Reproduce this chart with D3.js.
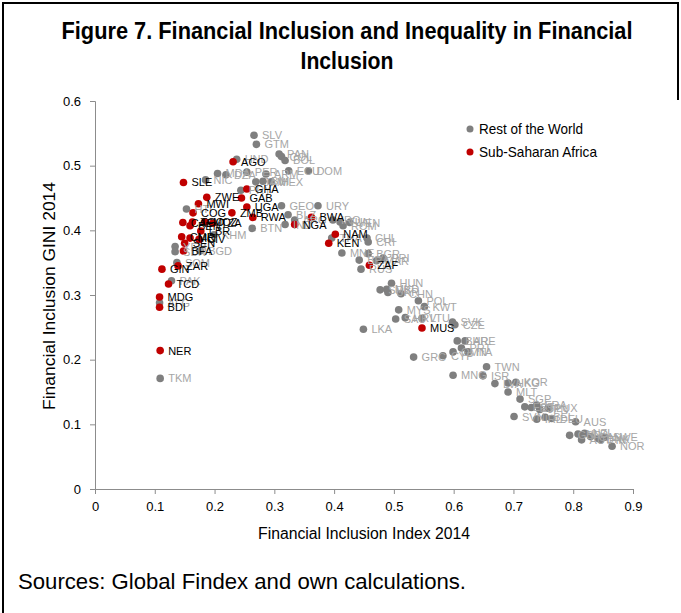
<!DOCTYPE html>
<html><head><meta charset="utf-8">
<script src="https://cdn.jsdelivr.net/npm/d3@7"></script>
<style>body{margin:0;background:#fff}svg{display:block}</style>
</head><body>
<svg id="c" width="681" height="613"></svg>
<script>
const title = ["Figure 7. Financial Inclusion and Inequality in Financial", "Inclusion"];
const xLabel = "Financial Inclusion Index 2014";
const yLabel = "Financial Inclusion GINI 2014";
const source = "Sources: Global Findex and own calculations.";
const seriesNames = ["Rest of the World", "Sub-Saharan Africa"];
const xTicks = [0,0.1,0.2,0.3,0.4,0.5,0.6,0.7,0.8,0.9];
const yTicks = [0,0.1,0.2,0.3,0.4,0.5,0.6];

const rowCodes = ["SLV","GTM","PAN","COL","BOL","ECU","DOM","HND","MDA","DZA","NIC","PER","ARM","JAM","BIH","MEX","PRY","HTI","GEO","URY","BLZ","ARG","IND","BTN","IRQ","TUN","VEN","ROM","THA","CHL","CRI","MNE","BGR","BRA","MAR","PRI","RUS","HUN","SRB","MKD","UKR","CHN","POL","KWT","MYS","HRV","SAU","LTU","SVK","CZE","LKA","BHR","ARE","PRT","OMN","ITA","CYP","GRC","TWN","MNG","ISR","LVA","HKG","KOR","MLT","SGP","EST","ESP","FRA","JPN","LUX","SVN","IRL","BEL","DEU","AUS","GBR","NLD","NZL","AUT","CAN","DNK","SWE","FIN","NOR","SOM","PAK","AFG","TKM","YEM","SDN","KHM","BGD"];
const rowX = [0.266,0.270,0.308,0.312,0.318,0.324,0.357,0.237,0.205,0.219,0.185,0.254,0.286,0.269,0.281,0.295,0.244,0.153,0.312,0.373,0.323,0.334,0.318,0.263,0.398,0.410,0.426,0.415,0.396,0.455,0.457,0.413,0.457,0.442,0.471,0.482,0.445,0.496,0.477,0.488,0.490,0.512,0.541,0.551,0.508,0.519,0.503,0.547,0.598,0.602,0.449,0.606,0.619,0.613,0.599,0.624,0.582,0.533,0.655,0.599,0.649,0.669,0.691,0.704,0.691,0.711,0.719,0.730,0.739,0.744,0.758,0.701,0.739,0.753,0.764,0.804,0.794,0.808,0.819,0.814,0.829,0.842,0.853,0.846,0.865,0.137,0.128,0.108,0.109,0.134,0.134,0.199,0.176];
const rowY = [0.547,0.533,0.518,0.514,0.508,0.492,0.492,0.510,0.488,0.486,0.478,0.490,0.487,0.475,0.476,0.475,0.462,0.433,0.438,0.438,0.424,0.416,0.409,0.403,0.416,0.413,0.412,0.407,0.388,0.388,0.382,0.365,0.364,0.354,0.353,0.357,0.340,0.318,0.308,0.309,0.304,0.302,0.291,0.282,0.277,0.265,0.263,0.264,0.258,0.254,0.247,0.229,0.229,0.218,0.212,0.212,0.206,0.204,0.189,0.176,0.175,0.163,0.164,0.165,0.150,0.139,0.127,0.126,0.130,0.123,0.125,0.112,0.108,0.111,0.109,0.104,0.083,0.085,0.086,0.076,0.081,0.078,0.080,0.076,0.066,0.350,0.322,0.288,0.171,0.375,0.367,0.393,0.368];

const ssaCodes = ["AGO","SLE","GHA","GAB","ZWE","MWI","UGA","COG","ZMB","RWA","TGO","CAF","BEN","MOZ","TZA","LBR","CMR","MLI","CIV","SEN","BFA","GIN","ZAR","TCD","MDG","BDI","NER","BWA","NGA","NAM","KEN","ZAF","MUS"];
const ssaX = [0.231,0.148,0.254,0.245,0.187,0.173,0.254,0.164,0.229,0.264,0.163,0.147,0.159,0.184,0.197,0.177,0.145,0.159,0.174,0.150,0.148,0.112,0.139,0.123,0.108,0.108,0.109,0.362,0.334,0.402,0.391,0.459,0.547];
const ssaY = [0.506,0.474,0.464,0.450,0.451,0.441,0.436,0.427,0.427,0.420,0.413,0.412,0.407,0.413,0.411,0.399,0.390,0.388,0.386,0.380,0.368,0.340,0.345,0.317,0.297,0.281,0.214,0.420,0.409,0.394,0.380,0.346,0.249];

const colors = {row:"#7f7f7f", ssa:"#c00000", rowLabel:"#a6a6a6", ssaLabel:"#000000"};
const rowData = rowCodes.map((c,i)=>({c, x:rowX[i], y:rowY[i]}));
const ssaData = ssaCodes.map((c,i)=>({c, x:ssaX[i], y:ssaY[i]}));

const svg = d3.select("#c");
const font = "'Liberation Sans', Arial, sans-serif";

// frame
svg.append("path").attr("d","M3,613 L3,3 L678,3 L678,100").attr("fill","none").attr("stroke","#000").attr("stroke-width",2);

// title
const titleLen = [571, 93];
svg.selectAll("text.title").data(title).join("text").attr("class","title")
  .attr("x",347).attr("y",(d,i)=>39+i*30).attr("text-anchor","middle")
  .attr("font-family",font).attr("font-weight","bold").attr("font-size",23).attr("fill","#000")
  .attr("textLength",(d,i)=>titleLen[i]).attr("lengthAdjust","spacingAndGlyphs").text(d=>d);

const x = d3.scaleLinear().domain([0,0.9]).range([95,633]);
const y = d3.scaleLinear().domain([0,0.6]).range([489,101]);

const xAxis = svg.append("g").attr("transform","translate(0,489)")
  .call(d3.axisBottom(x).tickValues(xTicks).tickSize(5).tickPadding(8).tickFormat(d=>d===0?"0":d3.format(".1f")(d)));
const yAxis = svg.append("g").attr("transform","translate(95,0)")
  .call(d3.axisLeft(y).tickValues(yTicks).tickSize(5).tickPadding(9).tickFormat(d=>d===0?"0":d3.format(".1f")(d)));
[xAxis,yAxis].forEach(g=>{
  g.select(".domain").attr("stroke","#8c8c8c");
  g.selectAll(".tick line").attr("stroke","#8c8c8c");
  g.selectAll(".tick text").attr("font-family",font).attr("font-size",13).attr("fill","#000");
});

svg.append("text").attr("x",364).attr("y",539).attr("text-anchor","middle")
  .attr("font-family",font).attr("font-size",16).attr("fill","#000")
  .attr("textLength",212).attr("lengthAdjust","spacingAndGlyphs").text(xLabel);
svg.append("text").attr("transform","translate(55,296) rotate(-90)").attr("text-anchor","middle")
  .attr("font-family",font).attr("font-size",16).attr("fill","#000")
  .attr("textLength",228).attr("lengthAdjust","spacingAndGlyphs").text(yLabel);

svg.append("text").attr("x",18).attr("y",589)
  .attr("font-family",font).attr("font-size",22).attr("fill","#000")
  .attr("textLength",448).attr("lengthAdjust","spacingAndGlyphs").text(source);

const r = 3.8;
svg.append("g").selectAll("circle").data(rowData).join("circle")
  .attr("cx",d=>x(d.x)).attr("cy",d=>y(d.y)).attr("r",r).attr("fill",colors.row);
svg.append("g").selectAll("circle").data(ssaData).join("circle")
  .attr("cx",d=>x(d.x)).attr("cy",d=>y(d.y)).attr("r",r).attr("fill",colors.ssa);
svg.append("g").selectAll("text").data(rowData).join("text")
  .attr("x",d=>x(d.x)+8).attr("y",d=>y(d.y)+4)
  .attr("font-family",font).attr("font-size",11).attr("fill",colors.rowLabel).text(d=>d.c);
svg.append("g").selectAll("text").data(ssaData).join("text")
  .attr("x",d=>x(d.x)+8).attr("y",d=>y(d.y)+4)
  .attr("font-family",font).attr("font-size",11).attr("fill",colors.ssaLabel).text(d=>d.c);

// legend
const leg = svg.append("g");
const legLen = [104, 118];
seriesNames.forEach((n,i)=>{
  leg.append("circle").attr("cx",470).attr("cy",129+i*23).attr("r",3.5).attr("fill",i===0?colors.row:colors.ssa);
  leg.append("text").attr("x",479).attr("y",134+i*23).attr("font-family",font).attr("font-size",14.5).attr("fill","#000")
    .attr("textLength",legLen[i]).attr("lengthAdjust","spacingAndGlyphs").text(n);
});
</script>
</body></html>
